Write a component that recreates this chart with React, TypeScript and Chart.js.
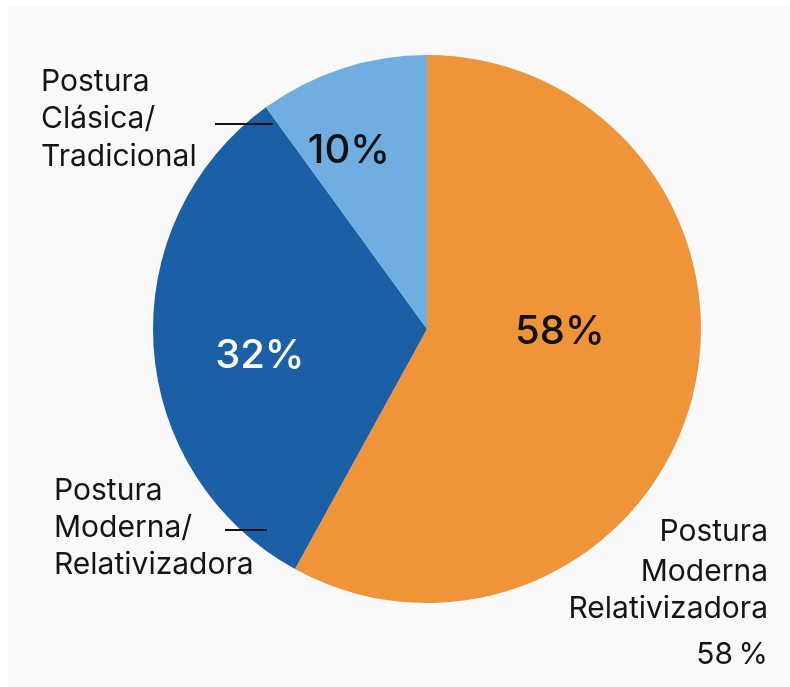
import React, { useEffect, useRef } from "react";
import { Chart, registerables } from "chart.js";

Chart.register(...registerables);

const categories = [
  "Postura Moderna Relativizadora",
  "Postura Moderna/ Relativizadora",
  "Postura Clásica/ Tradicional",
];
const values = [58, 32, 10];
const colors = ["#F0943A", "#1B5FA6", "#70AEE1"];
const innerLabels = ["58%", "32%", "10%"];
const innerLabelColors = ["#111111", "#FFFFFF", "#111111"];
// label offsets relative to pie centre, in units of the radius
const innerOffsets = [
  [0.485, 0.012],
  [-0.61, 0.1],
  [-0.285, -0.65],
];

const outerLabels = [
  { lines: ["Postura", "Moderna", "Relativizadora", "58\u2009%"], x: 768, ys: [532, 572, 609, 655], align: "right" },
  { lines: ["Postura", "Moderna/", "Relativizadora"], x: 54, ys: [491, 528, 565], align: "left" },
  { lines: ["Postura", "Clásica/", "Tradicional"], x: 41, ys: [82, 119, 157], align: "left" },
];
const leaderLines = [
  [225, 530, 267, 530],
  [215, 124, 273, 124],
];

const labelPlugin = {
  id: "labelPlugin",
  afterDraw(chart: any) {
    const ctx = chart.ctx;
    const meta = chart.getDatasetMeta(0);
    const arc = meta.data[0];
    const cx = arc.x;
    const cy = arc.y;
    const r = arc.outerRadius;
    ctx.save();
    ctx.textBaseline = "middle";
    ctx.textAlign = "center";
    ctx.font = "500 40px Inter, 'Noto Sans', sans-serif";
    innerLabels.forEach((t, i) => {
      ctx.fillStyle = innerLabelColors[i];
      ctx.fillText(t, cx + innerOffsets[i][0] * r, cy + innerOffsets[i][1] * r);
    });
    ctx.font = "400 30px Inter, 'Noto Sans', sans-serif";
    ctx.fillStyle = "#151515";
    outerLabels.forEach((l) => {
      ctx.textAlign = l.align;
      l.lines.forEach((line, j) => ctx.fillText(line, l.x, l.ys[j]));
    });
    ctx.strokeStyle = "#151515";
    ctx.lineWidth = 1.8;
    leaderLines.forEach(([x1, y1, x2, y2]) => {
      ctx.beginPath();
      ctx.moveTo(x1, y1);
      ctx.lineTo(x2, y2);
      ctx.stroke();
    });
    ctx.restore();
  },
};

export default function App() {
  const ref = useRef<HTMLCanvasElement>(null);
  useEffect(() => {
    if (!ref.current) return;
    const chart = new Chart(ref.current, {
      type: "pie",
      data: {
        labels: categories,
        datasets: [
          {
            data: values,
            backgroundColor: colors,
            borderWidth: 0,
          },
        ],
      },
      options: {
        responsive: false,
        animation: false,
        layout: { padding: { left: 153, right: 89, top: 55, bottom: 84 } },
        plugins: {
          legend: { display: false },
          tooltip: { enabled: false },
        },
      },
      plugins: [labelPlugin],
    });
    return () => chart.destroy();
  }, []);
  return (
    <div style={{ position: "fixed", left: 0, top: 0, width: 790, height: 687, background: "#ffffff" }}>
      <div style={{ position: "absolute", left: 8, top: 6, right: 0, bottom: 0, background: "#f9f9f9" }} />
      <canvas ref={ref} width={790} height={687} style={{ position: "absolute", left: 0, top: 0 }} />
    </div>
  );
}
